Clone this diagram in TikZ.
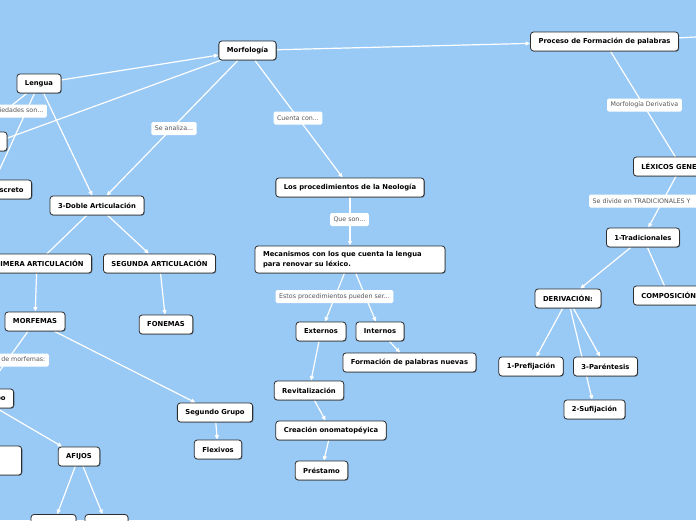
\documentclass[tikz,border=0pt]{standalone}
\usepackage{fontspec}
\setmainfont{DejaVu Sans}
\usetikzlibrary{arrows.meta,shadows}
\definecolor{bgblue}{RGB}{153,201,245}
\definecolor{bordc}{RGB}{45,45,45}
\definecolor{lblc}{RGB}{85,85,85}
\pgfdeclarelayer{bg}
\pgfdeclarelayer{edges}
\pgfsetlayers{bg,edges,main}
\tikzset{
  box/.style={draw=bordc, line width=0.8pt, fill=white, rounded corners=3pt,
    minimum height=19pt, inner xsep=8pt, inner ysep=2pt,
    font=\fontsize{6.8}{8}\selectfont\bfseries,
    drop shadow={shadow xshift=0.7pt, shadow yshift=-0.7pt, opacity=0.4, fill=black}},
  emptybox/.style={box, minimum height=19pt},
  lbl/.style={fill=white, rounded corners=1.5pt, inner xsep=3.5pt, inner ysep=2pt,
    minimum height=13pt, text=lblc, font=\fontsize{6.3}{7}\selectfont},
  conn/.style={draw=white, line width=1.2pt},
  arr/.style={conn, -{Triangle[length=4.5pt,width=4pt]}}
}
\begin{document}
\begin{tikzpicture}[x=1pt,y=-1pt]
\useasboundingbox (0,0) rectangle (696,520);
\clip (0,0) rectangle (696,520);
\begin{pgfonlayer}{bg}
\fill[bgblue] (0,0) rectangle (696,520);
\end{pgfonlayer}

% nodes
\node[box] (morf) at (247.5,50.5) {Morfología};
\node[box] (lengua) at (39,83.5) {Lengua};
\node[box] (proc) at (604.5,41.5) {Proceso de Formación de palabras};
\node[emptybox, minimum width=80pt] (L1) at (-33,141.5) {};
\node[box, anchor=east] (disc) at (32,189.5) {Carácter discreto};
\node[box] (doble) at (97,205.5) {3-Doble Articulación};
\node[box, anchor=east] (prim) at (92,263.5) {PRIMERA ARTICULACIÓN};
\node[box] (seg) at (159.5,263.5) {SEGUNDA ARTICULACIÓN};
\node[box] (morfemas) at (35,321.5) {MORFEMAS};
\node[box] (fonemas) at (166,324.5) {FONEMAS};
\node[box, anchor=east] (pg) at (14,398.5) {Primer Grupo};
\node[emptybox, minimum width=70pt, minimum height=29pt, anchor=east] (lbox) at (22,460.5) {};
\node[box] (afijos) at (79,456.5) {AFIJOS};
\node[emptybox, minimum width=45pt] (b1) at (53.5,524) {};
\node[emptybox, minimum width=43pt] (b2) at (106.5,524) {};
\node[box] (seggr) at (215,412.5) {Segundo Grupo};
\node[box] (flex) at (218,449.5) {Flexivos};
\node[box] (neo) at (350,187.5) {Los procedimientos de la Neología};
\node[box, text width=174pt, align=left, minimum height=27pt,
  font=\fontsize{6.8}{9.5}\selectfont\bfseries] (mec) at (350,259.5)
  {Mecanismos con los que cuenta la lengua\\para renovar su léxico.};
\node[box] (ext) at (321,331.5) {Externos};
\node[box] (int) at (380,331.5) {Internos};
\node[box] (form) at (409.5,362.5) {Formación de palabras nuevas};
\node[box] (rev) at (309,390.5) {Revitalización};
\node[box] (crea) at (331,430.5) {Creación onomatopéyica};
\node[box] (pres) at (321.5,470.5) {Préstamo};
\node[box, anchor=west] (lex) at (633,166.5) {LÉXICOS GENERALES};
\node[box] (trad) at (643,237.5) {1-Tradicionales};
\node[box] (deriv) at (568,298.5) {DERIVACIÓN:};
\node[box, anchor=west] (comp) at (633,295.5) {COMPOSICIÓN};
\node[box] (pref) at (531,366.5) {1-Prefijación};
\node[box] (par) at (605.5,366.5) {3-Paréntesis};
\node[box] (suf) at (594.5,409.5) {2-Sufijación};

% off-canvas ends
\coordinate (pA) at (-33,141.5);
\coordinate (pC) at (-2,141.5);
\coordinate (pR) at (800,31.9);

% labels
\node[lbl, anchor=east] (lprop) at (47,111) {Propiedades son...};
\node[lbl] (lanal) at (174,128.5) {Se analiza...};
\node[lbl] (lcuenta) at (298,118) {Cuenta con...};
\node[lbl] (lque) at (349.5,219.5) {Que son...};
\node[lbl] (lestos) at (334.5,296.5) {Estos procedimientos pueden ser...};
\node[lbl] (lmder) at (644.5,105) {Morfología Derivativa};
\node[lbl, anchor=west, text width=115pt, align=left] (ldiv) at (589,201) {Se divide en TRADICIONALES Y};
\node[lbl, anchor=east] (ltipos) at (49,360) {Tipos de morfemas:};

% connectors
\begin{pgfonlayer}{edges}
\clip (0,0) rectangle (696,520);
\draw[arr] (lengua) -- (morf);
\draw[conn] (lengua) -- (pA);
\draw[arr] (lengua) -- (disc.center);
\draw[arr] (lengua) -- (doble);
\draw[conn] (morf) -- (pC);
\draw[arr] (morf) -- (doble);
\draw[arr] (morf) -- (neo);
\draw[arr] (morf) -- (proc);
\draw[conn] (proc) -- (pR);
\draw[arr] (proc) -- (lex.center);
\draw[arr] (lex.center) -- (trad);
\draw[arr] (trad) -- (deriv);
\draw[arr] (trad) -- (comp.center);
\draw[arr] (deriv) -- (pref);
\draw[arr] (deriv) -- (par);
\draw[arr] (deriv) -- (suf);
\draw[arr] (doble) -- (prim.center);
\draw[arr] (doble) -- (seg);
\draw[arr] (prim.center) -- (morfemas);
\draw[arr] (seg) -- (fonemas);
\draw[arr] (morfemas) -- (pg.center);
\draw[arr] (morfemas) -- (seggr);
\draw[arr] (pg.center) -- (afijos);
\draw[arr] (afijos) -- (b1);
\draw[arr] (afijos) -- (b2);
\draw[arr] (seggr) -- (flex);
\draw[arr] (neo) -- (mec);
\draw[arr] (mec) -- (ext);
\draw[arr] (mec) -- (int);
\draw[arr] (int) -- (form);
\draw[arr] (ext) -- (rev);
\draw[arr] (rev) -- (crea);
\draw[arr] (crea) -- (pres);
\end{pgfonlayer}
\end{tikzpicture}
\end{document}
